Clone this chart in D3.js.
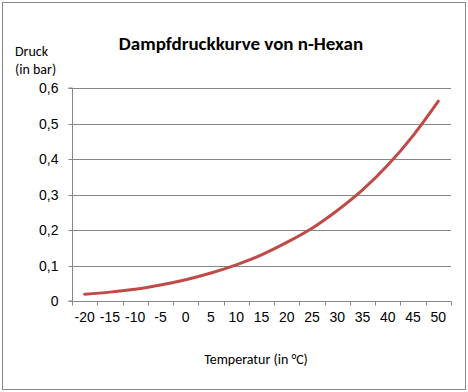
<!DOCTYPE html>
<html lang="de">
<head>
<meta charset="UTF-8" />
<title>Dampfdruckkurve von n-Hexan</title>
<script src="https://d3js.org/d3.v7.min.js"></script>
<style>
  body { margin: 0; padding: 0; background: #fff; }
  svg { display: block; font-family: Carlito, "Open Sans", "Liberation Sans", sans-serif; }
  .tick text { font-size: 14px; fill: #000; }
</style>
</head>
<body>
<svg width="468" height="392"></svg>
<script>
  // Temperatur in °C
  const temps = [-20, -15, -10, -5, 0, 5, 10, 15, 20, 25, 30, 35, 40, 45, 50];
  // Dampfdruck in bar
  const pressures = [0.019, 0.025, 0.033, 0.045, 0.06, 0.079, 0.102, 0.13, 0.165, 0.205, 0.255, 0.313, 0.383, 0.466, 0.563];
  const yTicks = [0, 0.1, 0.2, 0.3, 0.4, 0.5, 0.6];

  const plot = { left: 72, right: 451, top: 88, bottom: 301 };
  const axisColor = "#868686";

  const svg = d3.select("svg");

  // outer chart border
  svg.append("rect")
    .attr("x", 2.5).attr("y", 2.5)
    .attr("width", 463).attr("height", 387)
    .attr("fill", "#fff")
    .attr("stroke", axisColor)
    .attr("stroke-width", 1);

  const x = d3.scaleBand()
    .domain(temps)
    .range([plot.left, plot.right]);

  const y = d3.scaleLinear()
    .domain([0, 0.6])
    .range([plot.bottom, plot.top]);

  const fmt = d => d === 0 ? "0" : d3.format(".1f")(d).replace(".", ",");

  // gridlines
  svg.append("g")
    .selectAll("line")
    .data(yTicks.slice(1))
    .join("line")
    .attr("x1", plot.left).attr("x2", plot.right)
    .attr("y1", d => Math.round(y(d)) + 0.5)
    .attr("y2", d => Math.round(y(d)) + 0.5)
    .attr("stroke", axisColor);

  // y axis
  const yAxis = svg.append("g")
    .attr("transform", `translate(${plot.left + 0.5},0)`)
    .call(d3.axisLeft(y).tickValues(yTicks).tickFormat(fmt).tickSize(4).tickPadding(10).offset(0));
  yAxis.select(".domain").attr("stroke", axisColor);
  yAxis.selectAll(".tick line").attr("stroke", axisColor);
  yAxis.selectAll(".tick").attr("transform", d => `translate(0,${Math.round(y(d)) + 0.5})`);

  // x axis (category axis, ticks between categories)
  const xAxis = svg.append("g")
    .attr("transform", `translate(0,${plot.bottom + 0.5})`)
    .call(d3.axisBottom(x).tickSize(0).tickPadding(11).offset(0));
  xAxis.select(".domain").attr("stroke", axisColor);
  xAxis.append("g")
    .selectAll("line")
    .data(temps.concat(["end"]))
    .join("line")
    .attr("x1", d => Math.round(d === "end" ? plot.right : x(d)) + 0.5)
    .attr("x2", d => Math.round(d === "end" ? plot.right : x(d)) + 0.5)
    .attr("y1", 0).attr("y2", 4)
    .attr("stroke", axisColor);

  // data line
  const line = d3.line()
    .x((d, i) => x(temps[i]) + x.bandwidth() / 2)
    .y(d => y(d))
    .curve(d3.curveMonotoneX);

  svg.append("path")
    .datum(pressures)
    .attr("d", line)
    .attr("fill", "none")
    .attr("stroke", "#be4b48")
    .attr("stroke-width", 3)
    .attr("stroke-linecap", "round");

  // title
  svg.append("text")
    .attr("x", 241).attr("y", 50)
    .attr("text-anchor", "middle")
    .style("font-size", "19px")
    .style("font-weight", "bold")
    .text("Dampfdruckkurve von n-Hexan");

  // y axis title
  svg.append("text")
    .attr("x", 15).attr("y", 56)
    .style("font-size", "14px")
    .text("Druck");
  svg.append("text")
    .attr("x", 15).attr("y", 74)
    .style("font-size", "14px")
    .text("(in bar)");

  // x axis title
  svg.append("text")
    .attr("x", 256).attr("y", 364)
    .attr("text-anchor", "middle")
    .style("font-size", "14px")
    .text("Temperatur (in °C)");
</script>
</body>
</html>
